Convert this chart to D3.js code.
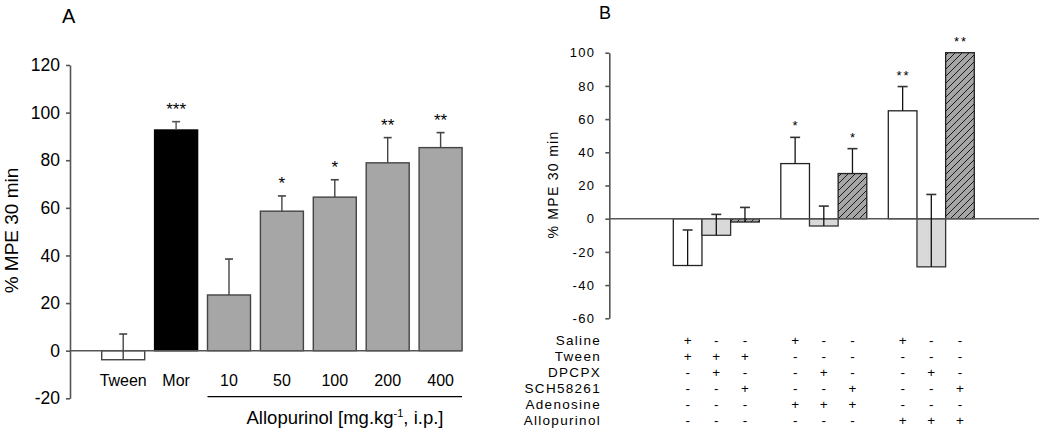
<!DOCTYPE html>
<html><head><meta charset="utf-8">
<script src="https://cdn.jsdelivr.net/npm/d3@7"></script>
<style>
body{margin:0;background:#fff;}
svg{display:block;font-family:"Liberation Sans",Arial,sans-serif;}
</style></head>
<body><svg id="c" width="1039" height="430"></svg>
<script>
// ---------- Panel A data ----------
const catsA = ["Tween","Mor","10","50","100","200","400"];
const meanA = [-3.8, 92.7, 23.4, 58.6, 64.5, 78.9, 85.3];
const semA  = [10.8, 3.5, 15.1, 6.4, 7.3, 10.6, 6.3];
const starsA = ["", "***", "", "*", "*", "**", "**"];
const groupA = ["tween","mor","allo","allo","allo","allo","allo"];
const ticksA = [-20, 0, 20, 40, 60, 80, 100, 120];

// ---------- Panel B data ----------
const barsB = ["b1","b2","b3","b4","b5","b6","b7","b8","b9"];
const meanB = [-28.2, -10, -2, 33.2, -4.4, 27.2, 65, -29, 100];
const semB  = [21.4, 12.6, 8.8, 15.8, 12.0, 15.0, 14.6, 43.6, 0];
const starsB = ["", "", "", "*", "", "*", "**", "", "**"];
const typeB = ["white","light","hatch","white","light","hatch","white","light","hatch"];
const ticksB = [-60, -40, -20, 0, 20, 40, 60, 80, 100];
const rowLabels = ["Saline","Tween","DPCPX","SCH58261","Adenosine","Allopurinol"];
const rowSigns = [
  ["+","-","-","+","-","-","+","-","-"],
  ["+","+","+","-","-","-","-","-","-"],
  ["-","+","-","-","+","-","-","+","-"],
  ["-","-","+","-","-","+","-","-","+"],
  ["-","-","-","+","+","+","-","-","-"],
  ["-","-","-","-","-","-","+","+","+"]
];

const svg = d3.select("#c");
const defs = svg.append("defs");
const pat = defs.append("pattern").attr("id","hatch").attr("patternUnits","userSpaceOnUse")
  .attr("width",7).attr("height",7);
pat.append("rect").attr("width",7).attr("height",7).attr("fill","#a6a6a6");
pat.append("path").attr("d","M-1,8 L8,-1 M-2,2 L2,-2 M5,9 L9,5").attr("stroke","#1a1a1a").attr("stroke-width",1);

const fmt = d => String(d);

// ================= Panel A =================
const gA = svg.append("g");
const yA = d3.scaleLinear().domain([-20,120]).range([398.3,65]);
const xA = d3.scaleBand().domain(catsA).range([96.75,467.05]).paddingInner(0.187).paddingOuter(0.0935);
const fillA = {tween:"#ffffff", mor:"#000000", allo:"#a6a6a6"};

const axA = gA.append("g").attr("transform","translate(70,0)")
  .call(d3.axisLeft(yA).tickValues(ticksA).tickFormat(fmt).tickSize(4).tickSizeOuter(0).tickPadding(6));
axA.select(".domain").attr("stroke","#555").attr("stroke-width",1.6);
axA.selectAll(".tick line").attr("stroke","#555").attr("stroke-width",1.6);
axA.selectAll(".tick text").attr("font-size",17.5).attr("fill","#000").attr("font-family","Liberation Sans, Arial");

gA.selectAll("rect.bar").data(catsA).join("rect")
  .attr("x", d=>xA(d))
  .attr("width", xA.bandwidth())
  .attr("y", (d,i)=>yA(Math.max(0,meanA[i])))
  .attr("height", (d,i)=>Math.abs(yA(meanA[i])-yA(0)))
  .attr("fill",(d,i)=>fillA[groupA[i]])
  .attr("stroke",(d,i)=>groupA[i]==="mor"?"#000":"#444")
  .attr("stroke-width",1.4);

gA.append("line").attr("x1",70).attr("x2",462).attr("y1",yA(0)).attr("y2",yA(0))
  .attr("stroke","#555").attr("stroke-width",1.6);

catsA.forEach((c,i)=>{
  const cx = xA(c)+xA.bandwidth()/2;
  const top = yA(meanA[i]+semA[i]);
  const col = groupA[i]==="mor" ? "#555" : "#444";
  gA.append("line").attr("x1",cx).attr("x2",cx).attr("y1",yA(meanA[i])).attr("y2",top)
    .attr("stroke",col).attr("stroke-width",1.4);
  gA.append("line").attr("x1",cx-4).attr("x2",cx+4).attr("y1",top).attr("y2",top)
    .attr("stroke",col).attr("stroke-width",1.6);
  if (starsA[i]) {
    gA.append("text").attr("x",cx).attr("y",top-7).attr("text-anchor","middle")
      .attr("font-size",17).text(starsA[i]);
  }
  gA.append("text").attr("x",cx).attr("y",385.7).attr("text-anchor","middle")
    .attr("font-size",16).text(c);
});

gA.append("line").attr("x1",xA("10")).attr("x2",462).attr("y1",396.7).attr("y2",396.7)
  .attr("stroke","#000").attr("stroke-width",1.2);
const lab = gA.append("text").attr("x",345).attr("y",423.5).attr("text-anchor","middle").attr("font-size",18.5);
lab.append("tspan").text("Allopurinol [mg.kg");
lab.append("tspan").attr("font-size",11).attr("dy",-7).text("-1");
lab.append("tspan").attr("dy",7).text(", i.p.]");

gA.append("text").attr("transform","translate(18,230.5) rotate(-90)").attr("text-anchor","middle")
  .attr("font-size",19).text("% MPE 30 min");
gA.append("text").attr("x",62).attr("y",23).attr("font-size",20).text("A");

// ================= Panel B =================
const gB = svg.append("g").attr("letter-spacing","1.3px");
const yB = d3.scaleLinear().domain([-60,100]).range([318.3,52.7]);
const xG = d3.scaleBand().domain([0,1,2]).range([662.55,985.05]).paddingInner(0.2).paddingOuter(0.1);
const xIn = d3.scaleBand().domain([0,1,2]).range([0,xG.bandwidth()]);
const barX = i => xG(Math.floor(i/3)) + xIn(i%3);
const bw = xIn.bandwidth();
const fillB = {white:"#ffffff", light:"#d9d9d9", hatch:"url(#hatch)"};

const axB = gB.append("g").attr("transform","translate(609.3,0)")
  .call(d3.axisLeft(yB).tickValues(ticksB).tickFormat(fmt).tickSize(4).tickSizeOuter(0).tickPadding(10));
axB.select(".domain").attr("stroke","#555").attr("stroke-width",1.6);
axB.selectAll(".tick line").attr("stroke","#555").attr("stroke-width",1.6);
axB.selectAll(".tick text").attr("font-size",13).attr("fill","#000").attr("font-family","Liberation Sans, Arial");

gB.selectAll("rect.bar").data(barsB).join("rect")
  .attr("x",(d,i)=>barX(i))
  .attr("width",bw)
  .attr("y",(d,i)=>yB(Math.max(0,meanB[i])))
  .attr("height",(d,i)=>Math.abs(yB(meanB[i])-yB(0)))
  .attr("fill",(d,i)=>fillB[typeB[i]])
  .attr("stroke",(d,i)=>typeB[i]==="light"?"#333":"#222")
  .attr("stroke-width",1.3);

gB.append("line").attr("x1",609.3).attr("x2",1039).attr("y1",yB(0)).attr("y2",yB(0))
  .attr("stroke","#555").attr("stroke-width",1.6);

barsB.forEach((b,i)=>{
  const cx = barX(i)+bw/2;
  const top = yB(meanB[i]+semB[i]);
  if (semB[i] > 0) {
    gB.append("line").attr("x1",cx).attr("x2",cx).attr("y1",yB(meanB[i])).attr("y2",top)
      .attr("stroke","#111").attr("stroke-width",1.3);
    gB.append("line").attr("x1",cx-5).attr("x2",cx+5).attr("y1",top).attr("y2",top)
      .attr("stroke","#333").attr("stroke-width",1.6);
  }
  if (starsB[i]) {
    gB.append("text").attr("x",cx+1).attr("y",top-7).attr("text-anchor","middle")
      .attr("font-size",13).attr("letter-spacing","2px").text(starsB[i]);
  }
});

rowLabels.forEach((r,j)=>{
  const yy = 340.7 + j*16 + 4.7;
  gB.append("text").attr("x",601).attr("y",yy).attr("text-anchor","end").attr("font-size",13.5).text(r);
  rowSigns[j].forEach((s,i)=>{
    gB.append("text").attr("x",barX(i)+bw/2).attr("y",yy).attr("text-anchor","middle")
      .attr("font-size",13.5).attr("letter-spacing","0px").text(s);
  });
});

gB.append("text").attr("transform","translate(558,184.5) rotate(-90)").attr("text-anchor","middle")
  .attr("font-size",14).attr("letter-spacing","1.3px").text("% MPE 30 min");
gB.append("text").attr("x",599).attr("y",19).attr("font-size",18).attr("letter-spacing","0px").text("B");
</script></body></html>
